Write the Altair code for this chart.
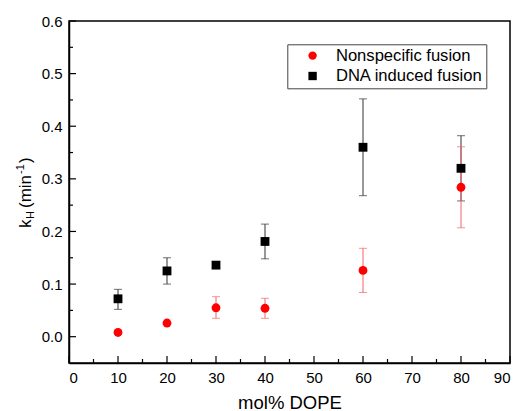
import altair as alt
import pandas as pd

# ---- data ----
series_names = ["Nonspecific fusion", "DNA induced fusion"]
x_vals = [10, 20, 30, 40, 60, 80]
nonspec = [0.008, 0.026, 0.055, 0.054, 0.126, 0.284]
nonspec_lo = [0.006, 0.024, 0.035, 0.035, 0.084, 0.207]
nonspec_hi = [0.010, 0.028, 0.076, 0.073, 0.168, 0.361]
dna = [0.072, 0.125, 0.136, 0.181, 0.360, 0.320]
dna_lo = [0.052, 0.100, 0.131, 0.148, 0.268, 0.258]
dna_hi = [0.090, 0.150, 0.141, 0.214, 0.452, 0.382]

x_major = [0, 10, 20, 30, 40, 50, 60, 70, 80, 90]
x_minor = [5, 15, 25, 35, 45, 55, 65, 75, 85]
y_major = [0.0, 0.1, 0.2, 0.3, 0.4, 0.5, 0.6]
y_minor = [0.05, 0.15, 0.25, 0.35, 0.45, 0.55]

W, H = 441, 342
FONT = "Liberation Sans"

df = pd.DataFrame({
    "series": [series_names[0]] * 6 + [series_names[1]] * 6,
    "x": x_vals + x_vals,
    "y": nonspec + dna,
    "lo": nonspec_lo + dna_lo,
    "hi": nonspec_hi + dna_hi,
})

xs = alt.Scale(domain=[0, 90], nice=False, zero=False)
ys = alt.Scale(domain=[-0.05, 0.6], nice=False, zero=False)

base = alt.Chart(df)


def errbars(name, color):
    d = base.transform_filter(alt.datum.series == name)
    rule = d.mark_rule(color=color, strokeWidth=1).encode(
        x=alt.X("x:Q", scale=xs), y=alt.Y("lo:Q", scale=ys), y2="hi:Q")
    cap_lo = d.mark_tick(color=color, orient="horizontal", size=8, thickness=1).encode(
        x=alt.X("x:Q", scale=xs), y=alt.Y("lo:Q", scale=ys))
    cap_hi = d.mark_tick(color=color, orient="horizontal", size=8, thickness=1).encode(
        x=alt.X("x:Q", scale=xs), y=alt.Y("hi:Q", scale=ys))
    return [rule, cap_lo, cap_hi]


points = base.mark_point(filled=True, opacity=1, size=78).encode(
    x=alt.X("x:Q", scale=xs, title="mol% DOPE",
            axis=alt.Axis(values=x_major, format="d")),
    y=alt.Y("y:Q", scale=ys, title=None,
            axis=alt.Axis(values=y_major, format=".1f")),
    color=alt.Color("series:N", scale=alt.Scale(domain=series_names, range=["#ff0000", "#000000"]),
                    title=None),
    shape=alt.Shape("series:N", scale=alt.Scale(domain=series_names, range=["circle", "square"]),
                    title=None),
)

# inward tick marks
xmaj = alt.Chart(pd.DataFrame({"x": x_major})).mark_rule(color="black", strokeWidth=1.2).encode(
    x=alt.X("x:Q", scale=xs), y=alt.value(H), y2=alt.value(H - 7))
xmin = alt.Chart(pd.DataFrame({"x": x_minor})).mark_rule(color="black", strokeWidth=1.2).encode(
    x=alt.X("x:Q", scale=xs), y=alt.value(H), y2=alt.value(H - 4))
ymaj = alt.Chart(pd.DataFrame({"y": y_major})).mark_rule(color="black", strokeWidth=1.2).encode(
    y=alt.Y("y:Q", scale=ys), x=alt.value(0), x2=alt.value(7))
ymin = alt.Chart(pd.DataFrame({"y": y_minor})).mark_rule(color="black", strokeWidth=1.2).encode(
    y=alt.Y("y:Q", scale=ys), x=alt.value(0), x2=alt.value(4))

# y axis title with subscript / superscript
one = pd.DataFrame({"a": [0]})


def ytxt(t, size, x, y):
    return alt.Chart(one).mark_text(text=t, angle=270, align="left", baseline="alphabetic",
                                    fontSize=size, font=FONT, color="black").encode(
        x=alt.value(x), y=alt.value(y))


ytitle = [
    ytxt("k", 17, -38, 207),
    ytxt("H", 11, -35, 198),
    ytxt("(min", 17, -38, 187),
    ytxt("-1", 11, -45, 153),
    ytxt(")", 17, -38, 142),
]

layers = errbars(series_names[1], "#333333") + errbars(series_names[0], "#f26565") + [points, xmaj, xmin, ymaj, ymin] + ytitle

chart = alt.layer(*layers).properties(
    width=W, height=H,
    autosize=alt.AutoSizeParams(type="none"),
    padding={"left": 61, "top": 13, "right": 1, "bottom": 48},
).configure_view(
    stroke="black", strokeWidth=1.5
).configure_axis(
    grid=False, ticks=False, tickSize=0, domainColor="black", domainWidth=1.5,
    labelFont=FONT, labelFontSize=15, labelColor="black",
    titleFont=FONT, titleFontWeight="normal", titleColor="black",
).configure_axisX(
    labelPadding=7, titleFontSize=18.5, titleBaseline="alphabetic", titleY=45,
).configure_axisY(
    labelPadding=7,
).configure_legend(
    orient="none", legendX=218.3, legendY=23.3,
    strokeColor="#444444", strokeWidth=1, fillColor="white", padding=3,
    symbolOffset=14, labelOffset=15, labelFont=FONT, labelFontSize=16.6, labelColor="black",
    symbolSize=70, rowPadding=3.4,
)

chart.save("out.html", embed_options={"renderer": "svg", "actions": False})
